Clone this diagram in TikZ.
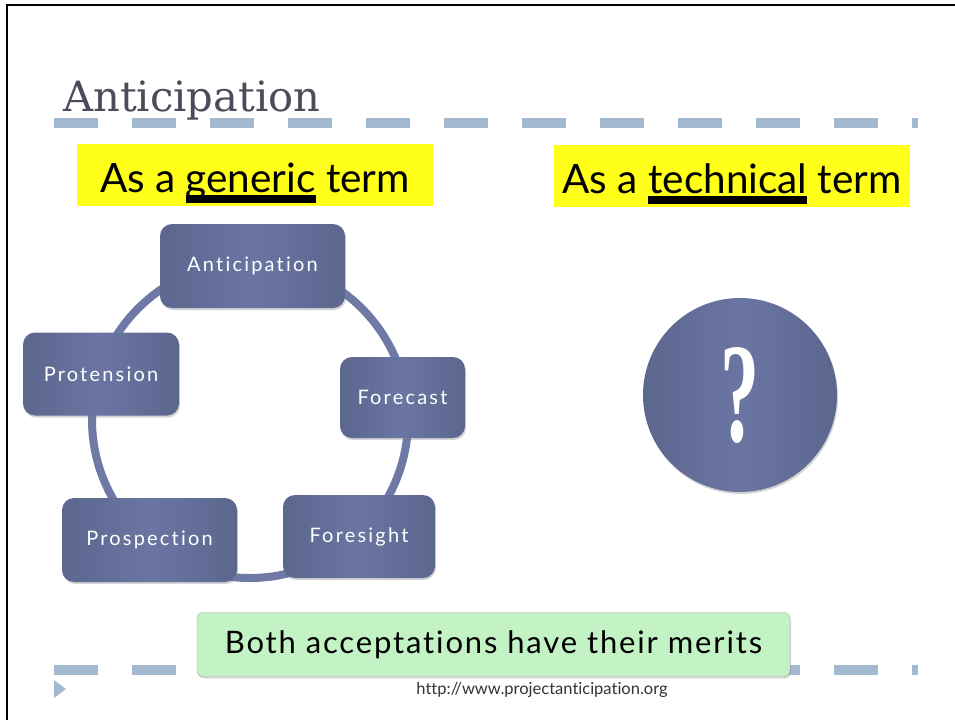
\documentclass[tikz,border=0pt]{standalone}
\usepackage{fontspec}
\setmainfont{DejaVu Serif}
\newfontfamily\qfont{Liberation Serif}
\newfontfamily\hum[Ligatures=NoCommon]{Lato}
\newfontfamily\humsp[LetterSpace=11,Ligatures=NoCommon]{Lato}
\newfontfamily\humsm[LetterSpace=6,Ligatures=NoCommon]{Lato}
\newfontfamily\humurl[Ligatures=NoCommon]{Lato}
\usetikzlibrary{shadows}
\definecolor{dashblue}{HTML}{A3B9CF}
\definecolor{titlegray}{HTML}{4B4B5B}
\definecolor{nodeblue}{HTML}{6A75A2}
\definecolor{nodeedge}{HTML}{5C678F}
\definecolor{ringblue}{HTML}{6E7AA5}
\definecolor{hlyellow}{HTML}{FFFF1A}
\definecolor{mintgreen}{HTML}{C3F3C4}
\newlength\ulw
\newcommand\thickul[1]{\settowidth\ulw{#1}\rlap{\rule[-0.28em]{\ulw}{0.21em}}#1}
\tikzset{
  dashrule/.style={dashblue, line width=10pt, dash pattern=on 44pt off 34pt},
  termbox/.style={fill=hlyellow, inner sep=0pt, minimum width=356pt, minimum height=62pt,
    text height=34pt, text depth=0pt, font=\hum\fontsize{40.5}{44}\selectfont},
  cyc/.style={rounded corners=12pt, left color=nodeedge, right color=nodeedge, middle color=nodeblue,
    text=white, font=\humsp\fontsize{20}{23}\selectfont, inner sep=0pt,
    drop shadow={shadow xshift=1pt, shadow yshift=-2pt, opacity=0.35}},
  ring/.style={ringblue, line width=8pt},
}
\begin{document}
\begin{tikzpicture}[x=1pt,y=-1pt]
\useasboundingbox (0,0) rectangle (955,720);
% frame
\draw[line width=2.5pt] (7,720) -- (7,5) -- (955,5);
% title
\node[anchor=base west, text=titlegray, inner sep=0pt, font=\fontsize{41.7}{45}\selectfont] (title) at (63,111) {Anticipation};
% dashed rules
\coordinate (d1a) at (54,123); \coordinate (d1b) at (918,123);
\draw[dashrule] (d1a) -- (d1b);
\coordinate (d2a) at (54,670); \coordinate (d2b) at (918,670);
\draw[dashrule] (d2a) -- (d2b);
\fill[dashblue] (54,680) -- (66,689) -- (54,698) -- cycle;
% term boxes
\node[termbox] (gen) at (255,175) {As a \thickul{generic} term};
\node[termbox] (tech) at (732,176) {As a \thickul{technical} term};
% ring
\coordinate (ringc) at (250,420);
\draw[ring] (ringc) circle (158);
% cycle nodes
\node[cyc, minimum width=185pt, minimum height=84pt] (ant) at (252.5,266) {Anticipation};
\node[cyc, minimum width=125pt, minimum height=81pt] (fore) at (402.5,397.5) {Forecast};
\node[cyc, minimum width=152pt, minimum height=83pt] (fsight) at (359,536.5) {Foresight};
\node[cyc, minimum width=175pt, minimum height=84pt] (prosp) at (149.5,540) {Prospection};
\node[cyc, minimum width=156pt, minimum height=83pt] (prot) at (101,374) {Protension};
% question circle
\node[circle, minimum size=194pt, inner sep=0pt, left color=nodeedge, right color=nodeedge, middle color=nodeblue,
  drop shadow={shadow xshift=1pt, shadow yshift=-2pt, opacity=0.35},
  text=white, font=\qfont\bfseries\fontsize{142}{146}\selectfont] (q) at (740,395) {\scalebox{0.55}[1]{?}};
% conclusion
\node[draw=gray!70, fill=mintgreen, rounded corners=6pt, minimum width=593pt, minimum height=64pt, inner sep=0pt,
  drop shadow={shadow xshift=1pt, shadow yshift=-2pt, opacity=0.3},
  font=\humsm\fontsize{31}{34}\selectfont] (both) at (493.5,644.5) {Both acceptations have their merits};
% url
\node[text=black!80, font=\humurl\fontsize{16.5}{18}\selectfont, inner sep=0pt] (url) at (542,690) {http://www.projectanticipation.org};
\end{tikzpicture}
\end{document}
